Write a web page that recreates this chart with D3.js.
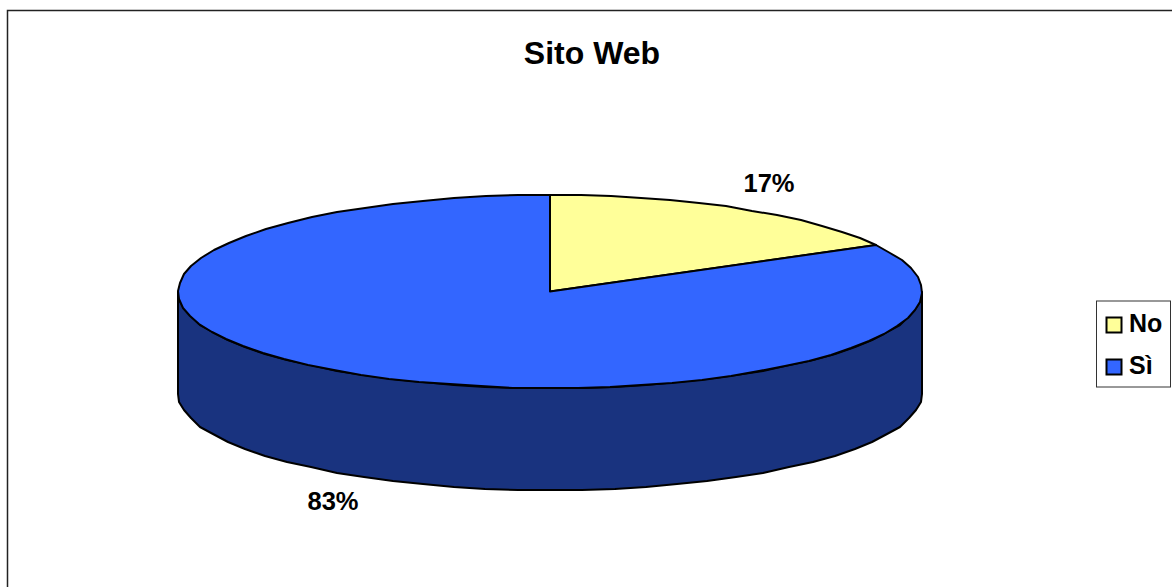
<!DOCTYPE html>
<html>

<head>
    <meta charset="utf-8">
    <style>
        html, body {
            margin: 0;
            padding: 0;
            background: #fff;
        }

        svg {
            display: block;
        }

        text {
            font-family: "Liberation Sans", Arial, sans-serif;
            font-weight: bold;
            fill: #000;
        }

        .title {
            font-size: 32px;
        }

        .pct {
            font-size: 25.5px;
        }

        .legend-label {
            font-size: 25px;
        }

        .outline {
            stroke: #000;
            stroke-width: 2px;
            stroke-linejoin: round;
        }
    </style>
</head>

<body>
    <svg width="1172" height="587"></svg>

    <script src="https://d3js.org/d3.v7.min.js"></script>
    <script>
        let chartTitle = "Sito Web"
        let categories = ["No", "Sì"]
        let values = [17, 83]
        let valueLabels = ["17%", "83%"]
        let topColors = ["#FFFF99", "#3366FF"]
        let sideColor = "#19337F"

        let width = 1172
        let height = 587

        let svg = d3.select("svg")

        // chart frame, right and bottom edges fall off the picture
        svg.append("rect")
            .attr("x", 7.5)
            .attr("y", 10.5)
            .attr("width", width + 20)
            .attr("height", height + 20)
            .attr("fill", "#fff")
            .attr("stroke", "#222")
            .attr("stroke-width", 1.5)

        svg.append("text")
            .attr("class", "title")
            .attr("x", 592)
            .attr("y", 64)
            .attr("text-anchor", "middle")
            .text(chartTitle)

        // the tilted disc: unit circle squeezed through two scales
        let x = d3.scaleLinear().domain([-1, 1]).range([178, 922])
        let y = d3.scaleLinear().domain([-1, 1]).range([195, 388])
        let depth = 102

        let pie = d3.pie().sort(null).value(d => d)
        let slices = pie(values)

        // the reference rim is a coarse polygon on whole pixels, hence the rounding
        let rim = (a, dy = 0) => [Math.round(x(Math.sin(a))), Math.round(y(-Math.cos(a)) + dy)]
        let steps = (a0, a1) => {
            let n = Math.ceil((a1 - a0) / (Math.PI / 36))
            return d3.range(n + 1).map(i => a0 + (a1 - a0) * i / n)
        }
        let line = d3.line()

        // side wall, front half only
        let front = steps(Math.PI / 2, Math.PI * 1.5)
        let wall = [
            ...front.map(a => rim(a)),
            ...front.slice().reverse().map(a => rim(a, depth))
        ]

        svg.append("path")
            .attr("class", "outline")
            .attr("d", line(wall) + "Z")
            .attr("fill", sideColor)

        // top faces
        svg.selectAll("path.slice")
            .data(slices)
            .join("path")
            .attr("class", "slice outline")
            .attr("fill", (d, i) => topColors[i])
            .attr("d", d => {
                let edge = steps(d.startAngle, d.endAngle).map(a => rim(a))
                return line([[x(0), y(0)], ...edge]) + "Z"
            })

        // percent labels
        let labelX = [769, 333]
        let labelY = [192, 510]

        svg.selectAll("text.pct")
            .data(valueLabels)
            .join("text")
            .attr("class", "pct")
            .attr("x", (d, i) => labelX[i])
            .attr("y", (d, i) => labelY[i])
            .attr("text-anchor", "middle")
            .text(d => d)

        // legend
        let legend = svg.append("g")

        legend.append("rect")
            .attr("x", 1096.5)
            .attr("y", 301)
            .attr("width", 74)
            .attr("height", 86)
            .attr("fill", "#fff")
            .attr("stroke", "#333")
            .attr("stroke-width", 1)

        let rowY = d3.scalePoint().domain(categories).range([325, 367])

        legend.selectAll("rect.swatch")
            .data(categories)
            .join("rect")
            .attr("class", "swatch")
            .attr("x", 1106.5)
            .attr("y", d => rowY(d) - 7.5)
            .attr("width", 15)
            .attr("height", 15)
            .attr("fill", (d, i) => topColors[i])
            .attr("stroke", "#000")
            .attr("stroke-width", 2)

        legend.selectAll("text.legend-label")
            .data(categories)
            .join("text")
            .attr("class", "legend-label")
            .attr("x", 1129)
            .attr("y", d => rowY(d) + 7)
            .text(d => d)
    </script>
</body>

</html>
